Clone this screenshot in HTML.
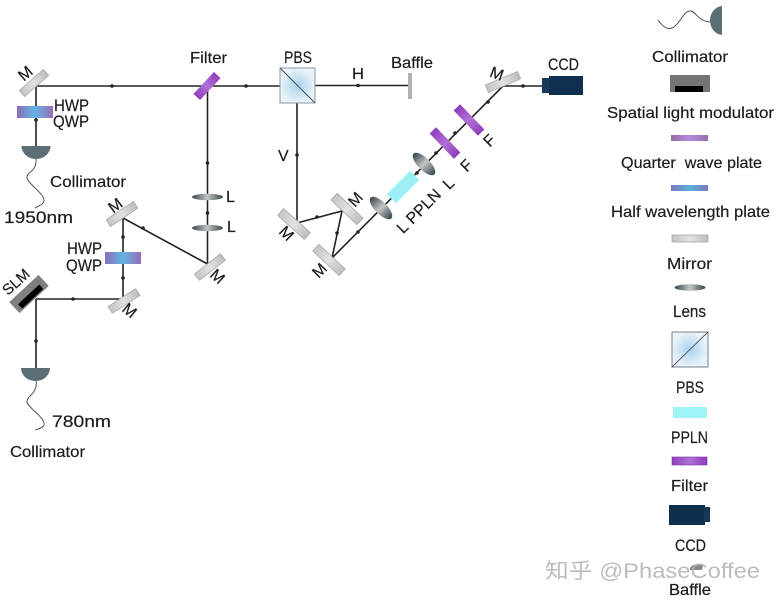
<!DOCTYPE html>
<html><head><meta charset="utf-8"><style>
html,body{margin:0;padding:0;background:#fff;width:779px;height:603px;overflow:hidden}
svg{display:block}
text{font-family:"Liberation Sans","Noto Sans CJK SC",sans-serif;font-size:16px;fill:#1c1c1c;stroke:#1c1c1c;stroke-width:.2}
.c{text-anchor:middle}
.ln{stroke:#222;stroke-width:1.600;fill:none}
.fb{stroke:#444;stroke-width:.9;fill:none}
.m{fill:url(#mir);stroke:#a8a8a8;stroke-width:.8}
.f{fill:url(#fil)}
.big{font-size:17px}
.wm{font-size:21px;fill:#b0b0b0;fill-opacity:.85;stroke:none}
</style></head><body>
<svg width="779" height="603" viewBox="0 0 779 603" xmlns="http://www.w3.org/2000/svg">
<defs>
<linearGradient id="mir" x1="0" x2="1" y1="0" y2="0"><stop offset="0" stop-color="#c4c4c4"/><stop offset=".5" stop-color="#e2e2e2"/><stop offset="1" stop-color="#bdbdbd"/></linearGradient>
<linearGradient id="fil" x1="0" x2="1" y1="0" y2="0"><stop offset="0" stop-color="#8f3dbb"/><stop offset=".5" stop-color="#b070d8"/><stop offset="1" stop-color="#8f3dbb"/></linearGradient>
<linearGradient id="hq" x1="0" x2="1" y1="0" y2="0"><stop offset="0" stop-color="#8a70b8"/><stop offset=".5" stop-color="#62b4e4"/><stop offset="1" stop-color="#9a6cb4"/></linearGradient>
<linearGradient id="qw" x1="0" x2="1" y1="0" y2="0"><stop offset="0" stop-color="#9a6aa8"/><stop offset=".5" stop-color="#b08ce0"/><stop offset="1" stop-color="#9a6aa8"/></linearGradient>
<linearGradient id="hw" x1="0" x2="1" y1="0" y2="0"><stop offset="0" stop-color="#8078c0"/><stop offset=".5" stop-color="#58b0dc"/><stop offset="1" stop-color="#8078c0"/></linearGradient>
<linearGradient id="le" x1="0" x2="1" y1="0" y2="0"><stop offset="0" stop-color="#33444a"/><stop offset=".5" stop-color="#c4c4c4"/><stop offset="1" stop-color="#33444a"/></linearGradient>
<radialGradient id="pb"><stop offset="0" stop-color="#a9d2ee"/><stop offset="1" stop-color="#eaf3f9"/></radialGradient>
<g id="lens"><ellipse cx="0" cy="0" rx="15.500" ry="3.200" fill="url(#le)"/></g>
<g id="coll"><path d="M-14.500 0H14.500A14.500 13 0 0 1-14.500 0Z" fill="#5c6e75"/></g>
</defs>

<!-- beams -->
<path class="ln" d="M36 146V86H280M207.500 86V264L123 218V299H36M36 368V299"/>
<path class="ln" d="M315 85.500H408M297 103V223L342 211L332 258L503 86H542"/>
<g fill="#222">
<circle cx="112" cy="86" r="1.800"/><circle cx="246" cy="86" r="1.800"/><circle cx="36" cy="120" r="1.800"/><circle cx="207.500" cy="163" r="1.800"/><circle cx="207.500" cy="213" r="1.800"/><circle cx="143" cy="228" r="1.800"/><circle cx="123" cy="237" r="1.800"/><circle cx="123" cy="278" r="1.800"/><circle cx="73" cy="299" r="1.800"/><circle cx="36" cy="341" r="1.800"/><circle cx="358" cy="85.500" r="1.800"/><circle cx="297" cy="155" r="1.800"/><circle cx="317" cy="217" r="1.800"/><circle cx="337" cy="233" r="1.800"/><circle cx="358" cy="232" r="1.800"/><circle cx="417" cy="173" r="1.800"/><circle cx="436" cy="153" r="1.800"/><circle cx="455" cy="133" r="1.800"/><circle cx="488" cy="102" r="1.800"/><circle cx="523" cy="86" r="1.800"/>
</g>

<!-- mirrors -->
<rect class="m" x="-16" y="-4" width="32" height="8" transform="translate(34 83) rotate(-41)"/>
<rect class="m" x="-16.500" y="-4" width="33" height="8" transform="translate(122 214) rotate(-34)"/>
<rect class="m" x="-16.500" y="-4" width="33" height="8" transform="translate(124 301) rotate(-33)"/>
<rect class="m" x="-16.500" y="-4" width="33" height="8" transform="translate(210 267) rotate(-38)"/>
<rect class="m" x="-18" y="-4.500" width="36" height="9" transform="translate(294 224) rotate(42)"/>
<rect class="m" x="-18" y="-4.500" width="36" height="9" transform="translate(347 209) rotate(44)"/>
<rect class="m" x="-18" y="-4.500" width="36" height="9" transform="translate(329 260) rotate(43)"/>
<rect class="m" x="-17.500" y="-4" width="35" height="8" transform="translate(503 82) rotate(-23)"/>

<!-- filter, plates -->
<rect class="f" x="-15" y="-4.500" width="30" height="9" transform="translate(207 86) rotate(-47)"/>
<rect x="17" y="106" width="36" height="12" fill="url(#hq)"/>
<rect x="105" y="252" width="36" height="12" fill="url(#hq)"/>
<rect class="f" x="-17.500" y="-4.500" width="35" height="9" transform="translate(445 143) rotate(46)"/>
<rect class="f" x="-17.500" y="-4.500" width="35" height="9" transform="translate(469 120) rotate(46)"/>
<rect x="-16.500" y="-6.500" width="33" height="13" fill="#9cf0f4" transform="translate(403 187) rotate(-45)"/>

<!-- lenses -->
<use href="#lens" x="207.500" y="197"/><use href="#lens" x="207.500" y="228"/>
<g transform="translate(381 208) rotate(45) scale(.95 1.900)"><use href="#lens"/></g>
<g transform="translate(424 164) rotate(45) scale(.95 1.900)"><use href="#lens"/></g>

<!-- PBS -->
<rect x="280" y="68" width="35" height="35" fill="url(#pb)" stroke="#8b99a3"/>
<path d="M280 68L315 103" stroke="#445" stroke-width=".9"/>
<rect x="408" y="73" width="4" height="26" fill="#b0b0b0"/>

<!-- CCD -->
<rect x="542" y="78" width="8" height="15" fill="#16395a"/>
<rect x="549" y="76" width="34" height="19" fill="#0f3050"/>

<!-- SLM -->
<g transform="translate(29 294) rotate(-43)"><rect x="-20" y="-7.500" width="40" height="15" fill="#808080"/><rect x="-15" y="0" width="29" height="6" fill="#000"/></g>

<!-- collimators -->
<use href="#coll" x="36" y="146"/><use href="#coll" x="35.500" y="368"/>
<path class="fb" d="M36 159C37 172 26 172 27 178C28 184 45 194 44 201C43 205 38 206 35 208"/>
<path class="fb" d="M36 381C38 394 26 396 27 402C28 408 46 418 44 425C43 428 38 429 35 430"/>

<!-- labels -->
<text x="190" y="63" textLength="37" lengthAdjust="spacingAndGlyphs">Filter</text>
<text class="big" x="284" y="63" textLength="28" lengthAdjust="spacingAndGlyphs">PBS</text>
<text x="352" y="79" textLength="12" lengthAdjust="spacingAndGlyphs">H</text>
<text x="391" y="68" textLength="42" lengthAdjust="spacingAndGlyphs">Baffle</text>
<text class="big" x="548" y="70" textLength="31" lengthAdjust="spacingAndGlyphs">CCD</text>
<text x="278" y="161" textLength="11">V</text>
<text class="big" x="54" y="111" textLength="35" lengthAdjust="spacingAndGlyphs">HWP</text>
<text class="big" x="53" y="127" textLength="36" lengthAdjust="spacingAndGlyphs">QWP</text>
<text x="50" y="187" textLength="76" lengthAdjust="spacingAndGlyphs">Collimator</text>
<text x="4" y="223" textLength="69" lengthAdjust="spacingAndGlyphs" style="font-size:17px">1950nm</text>
<text class="big" x="67" y="254" textLength="35" lengthAdjust="spacingAndGlyphs">HWP</text>
<text class="big" x="66" y="271" textLength="36" lengthAdjust="spacingAndGlyphs">QWP</text>
<text x="52" y="427" textLength="59" lengthAdjust="spacingAndGlyphs" style="font-size:17px">780nm</text>
<text x="10" y="457" textLength="75" lengthAdjust="spacingAndGlyphs">Collimator</text>
<text x="226" y="202">L</text><text x="227" y="232">L</text>

<g>
<text class="c" transform="translate(25 73) rotate(-41)" y="6">M</text>
<text class="c" transform="translate(115 205) rotate(-37)" y="6">M</text>
<text class="c" transform="translate(130 310) rotate(40)" y="6">M</text>
<text class="c" transform="translate(218 276) rotate(42)" y="6">M</text>
<text class="c" transform="translate(287 233) rotate(45)" y="6">M</text>
<text class="c" transform="translate(355 199) rotate(-48)" y="6">M</text>
<text class="c" transform="translate(319 270) rotate(-46)" y="6">M</text>
<text class="c" transform="translate(497 73) rotate(20)" y="6">M</text>
<text class="c" transform="translate(16 282) rotate(-42)" y="5" style="font-size:15px">SLM</text>
<text class="c" transform="translate(402 227) rotate(-45)" y="6">L</text>
<text class="c" transform="translate(448 183) rotate(-45)" y="6">L</text>
<text class="c" transform="translate(423 206) rotate(-45)" y="6">PPLN</text>
<text class="c" transform="translate(466 165) rotate(-45)" y="6">F</text>
<text class="c" transform="translate(489 140) rotate(-45)" y="6">F</text>
</g>

<!-- legend -->
<path d="M722 6V35C714 34 710 27 710 20.500C710 14 714 7 722 6Z" fill="#5c6e75"/>
<path class="fb" d="M658 20C663 27 668 31 674 27C681 22 684 10 691 11C696 12 698 21 710 22"/>
<text class="c" x="690" y="62" textLength="76" lengthAdjust="spacingAndGlyphs">Collimator</text>
<rect x="670" y="75" width="40" height="17" fill="#747474"/><rect x="675" y="86" width="28" height="6" fill="#000"/>
<text x="607" y="118" textLength="167" lengthAdjust="spacingAndGlyphs">Spatial light modulator</text>
<rect x="671" y="135" width="37" height="6" fill="url(#qw)"/>
<text x="621" y="168" textLength="141" lengthAdjust="spacingAndGlyphs" xml:space="preserve">Quarter  wave plate</text>
<rect x="671" y="185" width="37" height="6" fill="url(#hw)"/>
<text x="611" y="217" textLength="159" lengthAdjust="spacingAndGlyphs">Half wavelength plate</text>
<rect x="672" y="235" width="36" height="7" class="m"/>
<text x="667" y="269" textLength="45" lengthAdjust="spacingAndGlyphs">Mirror</text>
<ellipse cx="690" cy="287.500" rx="15.500" ry="3.200" fill="url(#le)"/>
<text class="big" x="673" y="317" textLength="33" lengthAdjust="spacingAndGlyphs">Lens</text>
<rect x="672" y="332" width="36" height="35" fill="url(#pb)" stroke="#77828a"/>
<path d="M672 367L708 332" stroke="#334" stroke-width=".8"/>
<text class="big" x="676" y="393" textLength="28" lengthAdjust="spacingAndGlyphs">PBS</text>
<rect x="673" y="407" width="34" height="11" fill="#a0f4f8"/>
<text class="big" x="671" y="443" textLength="37" lengthAdjust="spacingAndGlyphs">PPLN</text>
<rect x="672" y="457" width="35" height="8" fill="url(#fil)" stroke="#7a35a5" stroke-width=".6"/>
<text x="671" y="491" textLength="37" lengthAdjust="spacingAndGlyphs">Filter</text>
<rect x="669" y="505" width="36" height="20" fill="#0f2f4f"/><rect x="704" y="507" width="6" height="15" fill="#16395a"/>
<text class="big" x="675" y="551" textLength="31" lengthAdjust="spacingAndGlyphs">CCD</text>
<path d="M690 568C692 564 699 563 703 566L702 570H690Z" fill="#888"/>
<text x="669" y="595" textLength="42" lengthAdjust="spacingAndGlyphs">Baffle</text>
<text class="wm" x="545" y="578" textLength="215" lengthAdjust="spacingAndGlyphs">知乎 @PhaseCoffee</text>
</svg>
</body></html>
